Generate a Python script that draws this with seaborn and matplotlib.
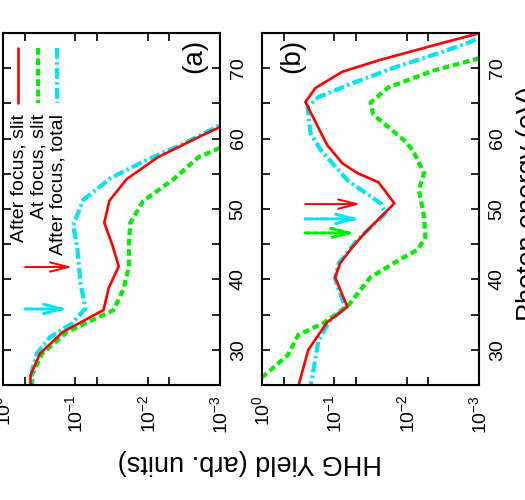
import numpy as np
import pandas as pd
import matplotlib
matplotlib.use("Agg")
import matplotlib.pyplot as plt
import seaborn as sns
from matplotlib.lines import Line2D
from matplotlib.ticker import FixedLocator, FixedFormatter, NullFormatter

# ---------------- data ----------------
series_names = ["After focus, slit", "At focus, slit", "After focus, total"]

# panel (a)
a_red_E = [23.25, 26.35, 29.45, 32.55, 35.65, 38.75, 41.85, 44.95, 48.05, 51.15, 54.25, 57.35, 60.45, 63.55]
a_red_logY = [-0.38, -0.38, -0.51, -0.83, -1.39, -1.46, -1.60, -1.51, -1.40, -1.47, -1.71, -2.14, -2.75, -3.4]
a_green_E = [23.25, 26.35, 29.45, 32.55, 35.65, 38.75, 41.85, 44.95, 48.05, 51.15, 54.25, 57.35, 60.45]
a_green_logY = [-0.40, -0.40, -0.54, -0.89, -1.53, -1.67, -1.74, -1.74, -1.76, -1.94, -2.36, -2.70, -3.4]
a_cyan_E = [23.5, 27.1, 29.5, 31.8, 33.8, 35.9, 39.5, 44.2, 47.7, 51.3, 54.4, 57.0, 59.1, 61.9, 64.0]
a_cyan_logY = [-0.42, -0.40, -0.47, -0.65, -0.96, -1.14, -1.07, -1.03, -0.97, -1.11, -1.49, -1.99, -2.46, -3.0, -3.4]

# panel (b)
b_red_E = [24.0, 30.0, 33.9, 36.1, 40.3, 42.3, 44.6, 46.7, 50.8, 53.8, 55.1, 56.5, 59.1, 65.2, 67.2, 69.5, 71.2, 73.6, 75.5]
b_red_logY = [-0.48, -0.64, -0.90, -1.18, -1.01, -1.08, -1.25, -1.43, -1.83, -1.61, -1.32, -1.11, -0.90, -0.60, -0.74, -1.11, -1.64, -2.50, -3.2]
b_green_E = [24.8, 26.1, 27.4, 29.3, 32.1, 33.8, 35.2, 36.4, 40.3, 42.8, 44.2, 46.0, 48.9, 52.7, 55.1, 58.4, 59.8, 63.4, 65.1, 67.3, 69.7, 71.4, 72.5]
b_green_logY = [0.08, 0.0, -0.15, -0.36, -0.50, -0.85, -1.04, -1.20, -1.50, -1.90, -2.15, -2.26, -2.24, -2.17, -2.24, -2.08, -1.96, -1.54, -1.50, -1.75, -2.38, -3.0, -3.4]
b_cyan_E = [24.0, 31.3, 33.9, 36.0, 40.1, 42.3, 45.6, 49.4, 50.8, 54.1, 58.4, 60.8, 64.5, 65.9, 67.9, 70.1, 72.1, 73.6, 74.3, 75.5]
b_cyan_logY = [-0.66, -0.78, -0.92, -1.15, -1.01, -1.06, -1.32, -1.71, -1.64, -1.18, -0.81, -0.67, -0.63, -0.78, -1.26, -1.83, -2.43, -2.85, -3.0, -3.3]

# arrows: energy, tail yield, tip yield
a_arrow_E = [41.76, 35.8]
a_arrow_tail = [0.494, 0.494]
a_arrow_tip = [0.110, 0.125]
a_arrow_series = ["After focus, slit", "After focus, total"]
b_arrow_E = [50.7, 48.6, 46.6]
b_arrow_tail = [0.253, 0.253, 0.253]
b_arrow_tip = [0.0435, 0.0435, 0.051]
b_arrow_series = ["After focus, slit", "After focus, total", "At focus, slit"]

energy_ticks = [30, 40, 50, 60, 70]
energy_minor = [35, 45, 55, 65]
yield_ticks = [1.0, 0.1, 0.01, 0.001]
yield_minor = [0.5, 0.05, 0.005]
yield_tick_labels = [r"$\mathregular{10^{0}}$", r"$\mathregular{10^{-1}}$",
                     r"$\mathregular{10^{-2}}$", r"$\mathregular{10^{-3}}$"]

# ---------------- styling ----------------
sns.set_theme(style="white")
plt.rcParams["font.family"] = ["Liberation Sans", "DejaVu Sans"]
plt.rcParams["mathtext.fontset"] = "custom"
plt.rcParams["mathtext.rm"] = "Liberation Sans"
plt.rcParams["mathtext.it"] = "Liberation Sans:italic"
plt.rcParams["mathtext.bf"] = "Liberation Sans:bold"

colors = {"After focus, slit": "#ff0000", "At focus, slit": "#00ee00", "After focus, total": "#00e5f0"}
lws = {"After focus, slit": 1.9, "At focus, slit": 3.0, "After focus, total": 3.0}
lstyles = {"After focus, slit": "-", "At focus, slit": (0, (1.6, 0.9)),
           "After focus, total": (0, (2.6, 0.8, 0.6, 0.8))}


def make_df(Es, logYs):
    rows = []
    for name, E, ly in zip(series_names, Es, logYs):
        rows.append(pd.DataFrame({"series": name, "energy": E, "yield": 10.0 ** np.array(ly)}))
    return pd.concat(rows, ignore_index=True)


df_a = make_df([a_red_E, a_green_E, a_cyan_E], [a_red_logY, a_green_logY, a_cyan_logY])
df_b = make_df([b_red_E, b_green_E, b_cyan_E], [b_red_logY, b_green_logY, b_cyan_logY])

fig = plt.figure(figsize=(5.25, 5.0), dpi=100)
W, H = 525.0, 500.0
ax_a = fig.add_axes([3 / W, 1 - 385 / H, 217 / W, 352 / H])
ax_b = fig.add_axes([262 / W, 1 - 385 / H, 217 / W, 352 / H])


def draw(ax, df):
    # draw in order: green, cyan, red (red on top)
    for name in ["At focus, slit", "After focus, total", "After focus, slit"]:
        sub = df[df["series"] == name]
        sns.lineplot(data=sub, x="yield", y="energy", ax=ax, sort=False, orient="y",
                     estimator=None, color=colors[name], linewidth=lws[name],
                     linestyle=lstyles[name], legend=False)
    ax.set_xscale("log")
    ax.set_xlim(1.0, 1e-3)
    ax.set_ylim(25, 75)
    ax.set_xlabel("")
    ax.set_ylabel("")
    ax.xaxis.set_major_locator(FixedLocator(yield_ticks))
    ax.xaxis.set_major_formatter(FixedFormatter(yield_tick_labels))
    ax.xaxis.set_minor_locator(FixedLocator(yield_minor))
    ax.xaxis.set_minor_formatter(NullFormatter())
    ax.yaxis.set_major_locator(FixedLocator(energy_ticks))
    ax.yaxis.set_minor_locator(FixedLocator(energy_minor))
    ax.tick_params(axis="both", which="both", direction="in", top=True, bottom=True,
                   left=True, right=True, color="black", width=1.2)
    ax.tick_params(axis="both", which="major", length=5.5)
    ax.tick_params(axis="both", which="minor", length=5.5)
    ax.tick_params(axis="x", which="major", labelsize=14, labelrotation=90, pad=7,
                   labelcolor="black")
    ax.tick_params(axis="y", which="major", labelsize=14, labelrotation=90, pad=7,
                   labelleft=False, labelright=True, labelcolor="black")
    for lbl in ax.get_yticklabels():
        lbl.set_va("center")
    for sp in ax.spines.values():
        sp.set_color("black")
        sp.set_linewidth(1.5)
    ax.set_facecolor("white")


def arrows(ax, Es, tails, tips, names):
    for E, t0, t1, name in zip(Es, tails, tips, names):
        ax.annotate("", xy=(t1, E), xytext=(t0, E),
                    arrowprops=dict(arrowstyle="->,head_length=1.1,head_width=0.28",
                                    color=colors[name], lw=lws[name] * 0.75,
                                    linestyle=lstyles[name], shrinkA=0, shrinkB=0,
                                    mutation_scale=12))


draw(ax_a, df_a)
draw(ax_b, df_b)
arrows(ax_a, a_arrow_E, a_arrow_tail, a_arrow_tip, a_arrow_series)
arrows(ax_b, b_arrow_E, b_arrow_tail, b_arrow_tip, b_arrow_series)

# manual rotated legend in panel (a)
leg_x = [0.069, 0.161, 0.249]
for xf, name in zip(leg_x, series_names):
    ax_a.add_line(Line2D([xf, xf], [0.957, 0.801], transform=ax_a.transAxes,
                         color=colors[name], linewidth=lws[name], linestyle=lstyles[name]))
    ax_a.text(xf + 0.006, 0.770, name, transform=ax_a.transAxes, rotation=90,
              ha="center", va="top", fontsize=14, color="black")

# panel labels
ax_a.text(0.88, 0.935, "(a)", transform=ax_a.transAxes, rotation=90,
          ha="center", va="center", fontsize=20, color="black")
ax_b.text(0.138, 0.935, "(b)", transform=ax_b.transAxes, rotation=90,
          ha="center", va="center", fontsize=20, color="black")

# axis labels
fig.text(250 / W, 1 - 462 / H, "HHG Yield (arb. units)", rotation=180,
         ha="center", va="center", fontsize=19.5, color="black")
fig.text(516 / W, 1 - 204 / H, "Photon energy (eV)", rotation=90,
         ha="left", va="center", fontsize=19.5, color="black")

fig.savefig("out.png", dpi=100, facecolor="white")
